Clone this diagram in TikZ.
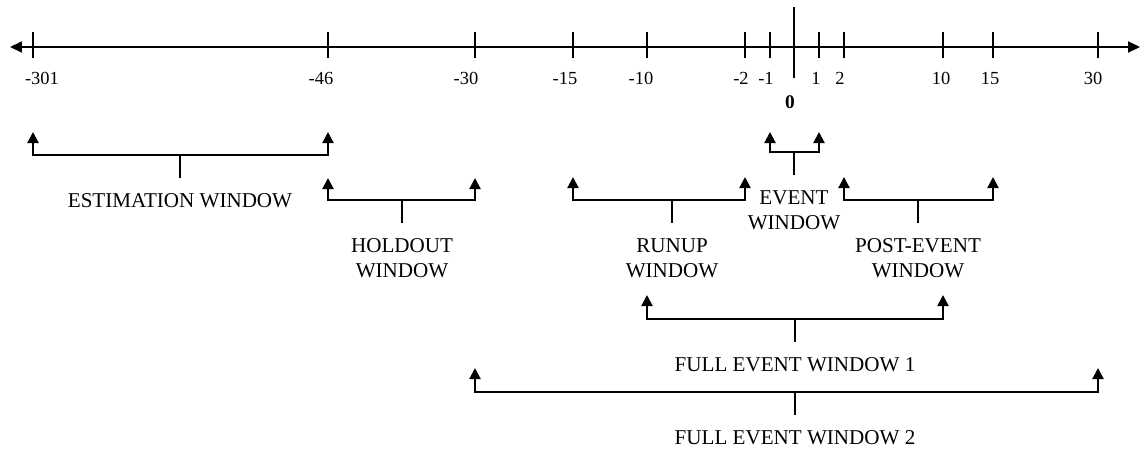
\documentclass[tikz,border=0pt]{standalone}
\usepackage{fontspec}
\setmainfont{Liberation Serif}
\usetikzlibrary{arrows.meta}
\tikzset{
  bracket/.style={{Triangle[width=0.22cm,length=0.22cm]}-{Triangle[width=0.22cm,length=0.22cm]},line width=1.2pt},
  stem/.style={line width=1.2pt},
  ticklabel/.style={font=\fontsize{10.5}{12}\selectfont,inner sep=0pt},
  winlabel/.style={font=\fontsize{12}{14.2}\selectfont,align=center,inner xsep=0pt,inner ysep=0.3cm,anchor=north}
}
\begin{document}
\begin{tikzpicture}[x=0.02cm,y=-0.02cm]
\useasboundingbox (0,0) rectangle (1141,450);
% the time line
\coordinate (axl) at (10,47); \coordinate (axr) at (1140,47);
\draw[{Triangle[width=0.22cm,length=0.24cm]}-{Triangle[width=0.22cm,length=0.24cm]},line width=1.1pt] (axl) -- (axr);
\foreach \x/\lx/\v in {33/42/-301,328/321/-46,475/466/-30,573/565/-15,647/641/-10,745/741/-2,770/766/-1,819/816/1,844/840/2,943/941/10,993/990/15,1098/1093/30}{
  \coordinate (t\v) at (\x,47);
  \draw[line width=1.2pt] (\x,32) -- (\x,58);
  \node[ticklabel] (l\v) at (\lx,78) {\v};
}
\coordinate (t0) at (794,47);
\draw[line width=1.4pt] (794,7) -- (794,78);   % day zero
\node[ticklabel,font=\fontsize{11}{12}\selectfont\bfseries] (l0) at (790,102) {0};
% estimation window
\coordinate (estl) at (33,132); \coordinate (estr) at (328,132); \coordinate (estm) at (180,155);
\draw[bracket] (estl) |- (estm) -| (estr);
\node[winlabel] (est) at (180,178) {ESTIMATION WINDOW};
\draw[stem] (estm) -- (est.north);
% holdout window
\coordinate (hldl) at (328,178); \coordinate (hldr) at (475,178); \coordinate (hldm) at (402,200);
\draw[bracket] (hldl) |- (hldm) -| (hldr);
\node[winlabel] (hld) at (402,223) {HOLDOUT\\WINDOW};
\draw[stem] (hldm) -- (hld.north);
% event window
\coordinate (evtl) at (770,132); \coordinate (evtr) at (819,132); \coordinate (evtm) at (794,152);
\draw[bracket] (evtl) |- (evtm) -| (evtr);
\node[winlabel] (evt) at (794,175) {EVENT\\WINDOW};
\draw[stem] (evtm) -- (evt.north);
% runup window
\coordinate (runl) at (573,177); \coordinate (runr) at (745,177); \coordinate (runm) at (672,200);
\draw[bracket] (runl) |- (runm) -| (runr);
\node[winlabel] (run) at (672,223) {RUNUP\\WINDOW};
\draw[stem] (runm) -- (run.north);
% post-event window
\coordinate (pstl) at (844,177); \coordinate (pstr) at (993,177); \coordinate (pstm) at (918,200);
\draw[bracket] (pstl) |- (pstm) -| (pstr);
\node[winlabel] (pst) at (918,223) {POST-EVENT\\WINDOW};
\draw[stem] (pstm) -- (pst.north);
% full event window 1
\coordinate (fw1l) at (647,295); \coordinate (fw1r) at (943,295); \coordinate (fw1m) at (795,319);
\draw[bracket] (fw1l) |- (fw1m) -| (fw1r);
\node[winlabel] (fw1) at (795,342) {FULL EVENT WINDOW 1};
\draw[stem] (fw1m) -- (fw1.north);
% full event window 2
\coordinate (fw2l) at (475,368); \coordinate (fw2r) at (1098,368); \coordinate (fw2m) at (795,392);
\draw[bracket] (fw2l) |- (fw2m) -| (fw2r);
\node[winlabel] (fw2) at (795,415) {FULL EVENT WINDOW 2};
\draw[stem] (fw2m) -- (fw2.north);
\end{tikzpicture}
\end{document}
